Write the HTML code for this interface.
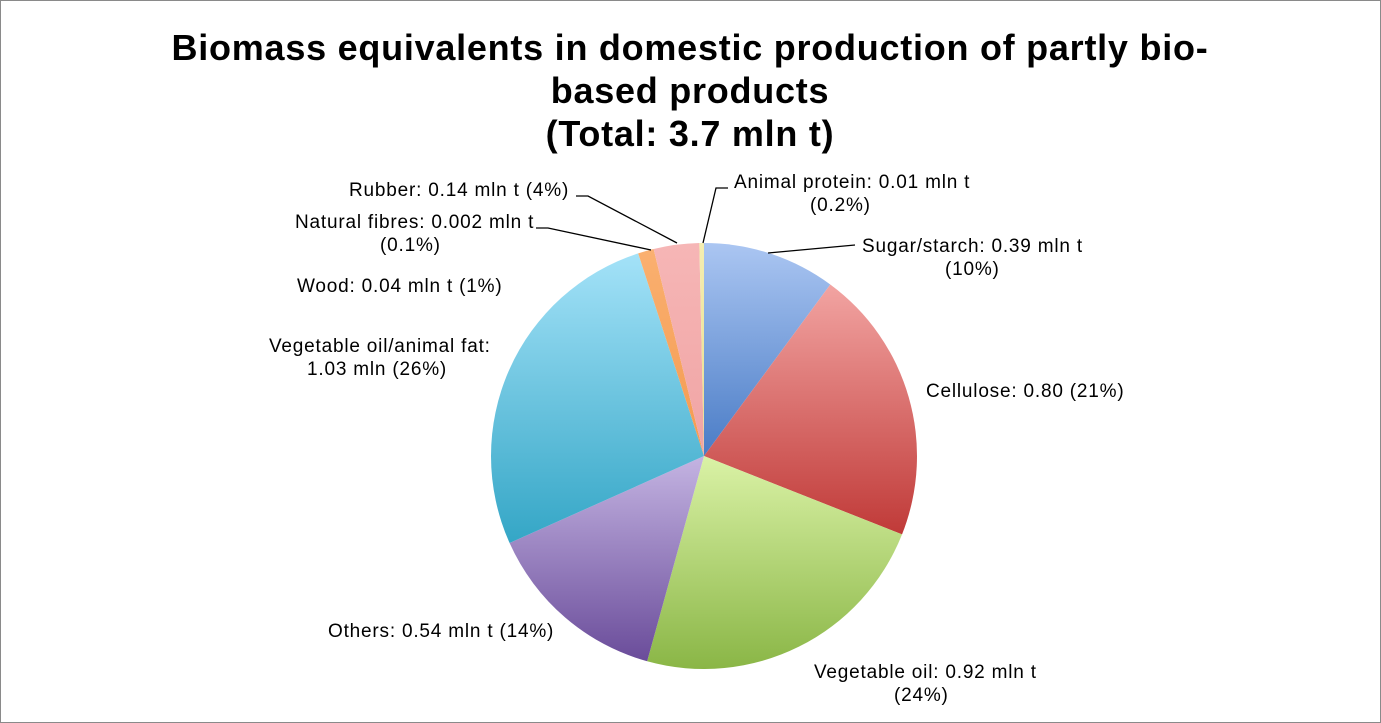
<!DOCTYPE html>
<html><head><meta charset="utf-8"><style>
html,body{margin:0;padding:0;background:#fff;}
svg{display:block;font-family:"Liberation Sans",Arial,sans-serif;}
</style></head><body>
<svg id="s" width="1381" height="723" viewBox="0 0 1381 723">
<defs>
<linearGradient id="g0" x1="0" y1="0" x2="0" y2="1"><stop offset="0" stop-color="#abc6f2"/><stop offset="1" stop-color="#4a7cc6"/></linearGradient>
<linearGradient id="g1" x1="0" y1="0" x2="0" y2="1"><stop offset="0" stop-color="#f2a4a2"/><stop offset="1" stop-color="#c03a38"/></linearGradient>
<linearGradient id="g2" x1="0" y1="0" x2="0" y2="1"><stop offset="0" stop-color="#daf2a6"/><stop offset="1" stop-color="#8ab646"/></linearGradient>
<linearGradient id="g3" x1="0" y1="0" x2="0" y2="1"><stop offset="0" stop-color="#c4b4e2"/><stop offset="1" stop-color="#6a4c9a"/></linearGradient>
<linearGradient id="g4" x1="0" y1="0" x2="0" y2="1"><stop offset="0" stop-color="#a4e2f8"/><stop offset="1" stop-color="#34a6c6"/></linearGradient>
<linearGradient id="g5" x1="0" y1="0" x2="0" y2="1"><stop offset="0" stop-color="#fab070"/><stop offset="1" stop-color="#f49a50"/></linearGradient>
<linearGradient id="g6" x1="0" y1="0" x2="0" y2="1"><stop offset="0" stop-color="#f6b6b6"/><stop offset="1" stop-color="#f0a4a4"/></linearGradient>
<linearGradient id="g7" x1="0" y1="0" x2="0" y2="1"><stop offset="0" stop-color="#f4eeb0"/><stop offset="1" stop-color="#e8dc90"/></linearGradient>
</defs>
<rect x="0.5" y="0.5" width="1380" height="722" fill="#fff" stroke="#8a8a8a" stroke-width="1"/>
<g font-weight="bold" font-size="36" letter-spacing="0.75" text-anchor="middle" fill="#000">
<text x="690" y="60">Biomass equivalents in domestic production of partly bio-</text>
<text x="690" y="103">based products</text>
<text x="690" y="146">(Total: 3.7 mln t)</text>
</g>
<g id="pie"></g>
<g stroke="#000" stroke-width="1.3" fill="none">
<polyline points="703,243 716,188 728,188"/>
<polyline points="768,253 855,245"/>
<polyline points="677,243 588,196 576,196"/>
<polyline points="651,250 548,228 536,228"/>
</g>
<g font-size="19" letter-spacing="0.8" fill="#000">
<text x="734" y="188">Animal protein: 0.01 mln t</text>
<text x="810" y="211">(0.2%)</text>
<text x="862" y="252">Sugar/starch: 0.39 mln t</text>
<text x="945" y="275">(10%)</text>
<text x="926" y="397">Cellulose: 0.80 (21%)</text>
<text x="814" y="678">Vegetable oil: 0.92 mln t</text>
<text x="894" y="701">(24%)</text>
<text x="328" y="637">Others: 0.54 mln t (14%)</text>
<text x="269" y="352">Vegetable oil/animal fat:</text>
<text x="307" y="375">1.03 mln (26%)</text>
<text x="297" y="292">Wood: 0.04 mln t (1%)</text>
<text x="295" y="228">Natural fibres: 0.002 mln t</text>
<text x="380" y="251">(0.1%)</text>
<text x="349" y="196">Rubber: 0.14 mln t (4%)</text>
</g>
</svg>
<script>
var cx=704,cy=456,r=213;
var sl=[[0,10.1,'g0'],[10.1,31.0,'g1'],[31.0,54.3,'g2'],[54.3,68.3,'g3'],[68.3,95.0,'g4'],[95.0,96.2,'g5'],[96.2,99.65,'g6'],[99.65,100,'g7']];
var g=document.getElementById('pie'),h='';
function pt(p){var a=p/100*2*Math.PI;return [cx+r*Math.sin(a),cy-r*Math.cos(a)];}
sl.forEach(function(s){var a=pt(s[0]),b=pt(s[1]);var lg=(s[1]-s[0])>50?1:0;
h+='<path d="M'+cx+','+cy+' L'+a[0].toFixed(2)+','+a[1].toFixed(2)+' A'+r+','+r+' 0 '+lg+' 1 '+b[0].toFixed(2)+','+b[1].toFixed(2)+' Z" fill="url(#'+s[2]+')"/>';});
g.innerHTML=h;
</script>
</body></html>
